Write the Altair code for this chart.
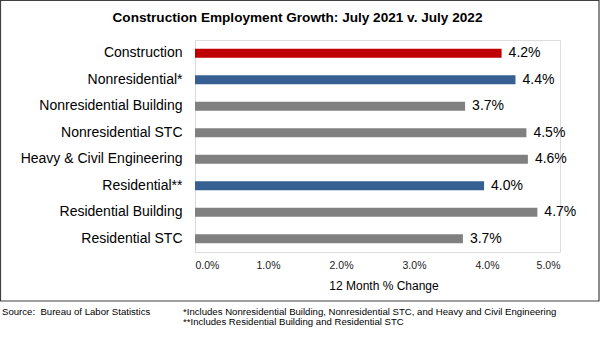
import altair as alt
import pandas as pd

categories = ["Construction", "Nonresidential*", "Nonresidential Building", "Nonresidential STC",
              "Heavy & Civil Engineering", "Residential**", "Residential Building", "Residential STC"]
values = [4.20, 4.39, 3.70, 4.54, 4.56, 3.96, 4.69, 3.67]
colors = ["#C00000", "#366092", "#808080", "#808080", "#808080", "#366092", "#808080", "#808080"]
x_ticks = [0, 1, 2, 3, 4, 5]

title_text = "Construction Employment Growth: July 2021 v. July 2022"
x_title = "12 Month % Change"
source_note = "Source:\u00a0 Bureau of Labor Statistics"
footnote_1 = "*Includes Nonresidential Building, Nonresidential STC, and Heavy and Civil Engineering"
footnote_2 = "**Includes Residential Building and Residential STC"

FONT = "Liberation Sans"

df = pd.DataFrame({"category": categories, "value": values, "color": colors})
df["label"] = [f"{v:.1f}%" for v in values]

y_enc = alt.Y("category:N", sort=categories, title=None,
              scale=alt.Scale(paddingInner=0.66, paddingOuter=0.33),
              axis=alt.Axis(domainColor="#D9D9D9", domainWidth=1, ticks=False,
                            labelFontSize=14, labelFont=FONT, labelColor="#000000",
                            labelPadding=13, grid=False))
x_enc = alt.X("value:Q", title=x_title,
              scale=alt.Scale(domain=[0, 5], nice=False),
              axis=alt.Axis(values=x_ticks, labelExpr="format(datum.value, '.1f') + '%'",
                            domain=False, ticks=False, grid=False,
                            labelFontSize=10.5, labelFont=FONT, labelColor="#1a1a1a",
                            labelPadding=8,
                            titleFontSize=12, titleFont=FONT, titleFontWeight="normal",
                            titleColor="#000000", titleX=188.5, titleY=33,
                            titleBaseline="middle"))

bars = alt.Chart(df).mark_bar().encode(
    y=y_enc, x=x_enc, color=alt.Color("color:N", scale=None)
)
labels = alt.Chart(df).mark_text(align="left", baseline="middle", dx=7,
                                 fontSize=14, font=FONT, color="#000000").encode(
    y=alt.Y("category:N", sort=categories), x="value:Q", text="label:N"
)


def note(text, x, y):
    return alt.Chart(pd.DataFrame({"t": [text]})).mark_text(
        align="left", baseline="middle", fontSize=9.6, font=FONT, color="#000000"
    ).encode(x=alt.value(x), y=alt.value(y), text="t:N")


title_mark = alt.Chart(pd.DataFrame({"t": [title_text]})).mark_text(
    align="center", baseline="middle", fontSize=13.6, font=FONT, fontWeight="bold", color="#000000"
).encode(x=alt.value(102.5), y=alt.value(-22.5), text="t:N")

src = note(source_note, -193, 271.5)
fn1 = note(footnote_1, -12, 271.5)
fn2 = note(footnote_2, -12, 282)

border = alt.Chart(pd.DataFrame({"a": [0]})).mark_rect(
    fill=None, stroke="#404040", strokeWidth=1.2
).encode(x=alt.value(-194.5), x2=alt.value(404), y=alt.value(-39.5), y2=alt.value(261))

chart = alt.layer(bars, labels, title_mark, src, fn1, fn2, border).properties(
    width=365, height=212,
    autosize=alt.AutoSizeParams(type="none"),
    padding={"left": 195, "top": 40, "right": 40, "bottom": 87},
).configure_view(stroke=None).configure(background="#ffffff")

chart.save("out.html", embed_options={"renderer": "svg", "actions": False})
